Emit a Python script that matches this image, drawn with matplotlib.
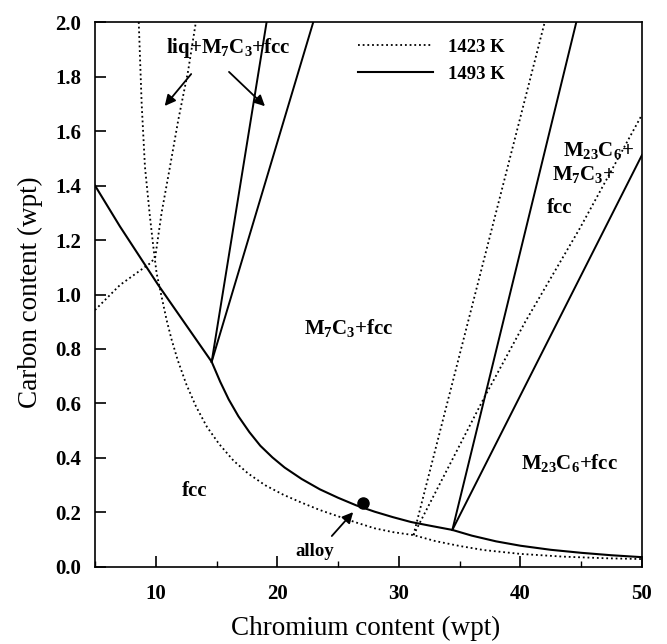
import matplotlib
matplotlib.use('Agg')
import matplotlib.pyplot as plt
from matplotlib.ticker import MultipleLocator, FormatStrFormatter

plt.rcParams['font.family'] = 'Liberation Serif'
plt.rcParams['mathtext.fontset'] = 'custom'
plt.rcParams['mathtext.bf'] = 'Liberation Serif:bold'
plt.rcParams['mathtext.rm'] = 'Liberation Serif:bold'
plt.rcParams['mathtext.default'] = 'bf'

# 1493 K: fcc boundary (solid)
cr_1493 = [5, 7.05, 10.2, 14.6, 15.3, 16.0, 16.8, 17.7, 18.6, 19.6, 20.6, 22.0, 23.5,
           25.0, 26.5, 28.0, 29.5, 31.0, 32.5, 34.4, 36.0, 38.0, 40.0, 42.5, 45.0,
           47.5, 50.0]
c_1493 = [1.40, 1.25, 1.035, 0.753, 0.680, 0.615, 0.553, 0.495, 0.445, 0.402, 0.365,
          0.323, 0.285, 0.254, 0.226, 0.203, 0.183, 0.165, 0.152, 0.136, 0.115, 0.094,
          0.078, 0.063, 0.052, 0.043, 0.036]
# 1493 K tie lines (solid)
cr_1493_tie_a = [14.6, 19.12]
c_1493_tie_a = [0.753, 2.0]
cr_1493_tie_b = [14.6, 22.96]
c_1493_tie_b = [0.753, 2.0]
cr_1493_tie_c = [34.4, 44.6]
c_1493_tie_c = [0.136, 2.0]
cr_1493_tie_d = [34.4, 50]
c_1493_tie_d = [0.136, 1.512]

# 1423 K: fcc boundary (dotted)
cr_1423 = [8.6, 8.84, 9.11, 9.52, 9.8, 10.07, 10.48, 10.9, 11.3, 11.8, 12.5, 13.3,
           14.2, 15.2, 16.4, 17.6, 19.0, 20.5, 22.0, 23.5, 25.0, 26.5, 28.0, 29.5,
           31.2, 33.0, 35.0, 37.0, 40.0, 43.5, 47.0, 50.0]
c_1423 = [2.0, 1.70, 1.469, 1.286, 1.175, 1.078, 0.992, 0.905, 0.835, 0.76, 0.672,
          0.59, 0.515, 0.452, 0.39, 0.343, 0.300, 0.265, 0.236, 0.209, 0.186, 0.163,
          0.142, 0.128, 0.117, 0.095, 0.077, 0.062, 0.048, 0.038, 0.032, 0.029]
# 1423 K other boundaries (dotted)
cr_1423_liq = [5, 7.06, 9.52, 9.95]
c_1423_liq = [0.943, 1.035, 1.114, 1.135]
cr_1423_tie_a = [9.95, 10.48, 11.17, 11.85, 12.66, 13.3]
c_1423_tie_a = [1.135, 1.30, 1.469, 1.64, 1.82, 2.0]
cr_1423_tie_b = [31.2, 42.0]
c_1423_tie_b = [0.117, 2.0]
cr_1423_tie_c = [31.2, 37.0, 40.4, 44.9, 50]
c_1423_tie_c = [0.117, 0.62, 0.9, 1.244, 1.66]

alloy_cr = [27.05]
alloy_c = [0.235]

dotted = (0, (1, 1.6))
fig, ax = plt.subplots(figsize=(6.67, 6.44), dpi=100)
fig.subplots_adjust(left=0.1424, right=0.9625, bottom=0.1196, top=0.9658)

ax.plot(cr_1423, c_1423, color='k', lw=1.3, ls=dotted, label='1423 K')
for xs, ys in [(cr_1423_liq, c_1423_liq), (cr_1423_tie_a, c_1423_tie_a),
               (cr_1423_tie_b, c_1423_tie_b), (cr_1423_tie_c, c_1423_tie_c)]:
    ax.plot(xs, ys, color='k', lw=1.3, ls=dotted)

ax.plot(cr_1493, c_1493, color='k', lw=1.5, label='1493 K')
for xs, ys in [(cr_1493_tie_a, c_1493_tie_a), (cr_1493_tie_b, c_1493_tie_b),
               (cr_1493_tie_c, c_1493_tie_c), (cr_1493_tie_d, c_1493_tie_d)]:
    ax.plot(xs, ys, color='k', lw=1.4)

ax.plot(alloy_cr, alloy_c, 'o', color='k', ms=8)

ax.set_xlim(5, 50)
ax.set_ylim(0, 2.0)

# region labels
kw = dict(fontsize=15, fontweight='bold', color='k')
ax.text(16.0, 1.905, r'liq+M$_7$C$_3$+fcc', ha='center', va='center', **kw)
ax.text(25.9, 0.877, r'M$_7$C$_3$+fcc', ha='center', va='center', **kw)
ax.text(44.0, 0.38, r'M$_{23}$C$_6$+fcc', ha='center', va='center', **kw)
ax.text(13.2, 0.279, 'fcc', ha='center', va='center', **kw)
ax.text(43.5, 1.53, r'M$_{23}$C$_6$+', ha='left', va='center', **kw)
ax.text(42.6, 1.439, r'M$_7$C$_3$+', ha='left', va='center', **kw)
ax.text(42.2, 1.317, 'fcc', ha='left', va='center', **kw)
ax.text(23.1, 0.055, 'alloy', ha='center', va='center', fontsize=13.5, fontweight='bold')

arrow = dict(arrowstyle='-|>', color='k', lw=1.3, mutation_scale=16)
ax.annotate('', xy=(10.59, 1.684), xytext=(13.06, 1.817), arrowprops=arrow)
ax.annotate('', xy=(19.15, 1.684), xytext=(15.86, 1.824), arrowprops=arrow)
ax.annotate('', xy=(26.39, 0.209), xytext=(24.33, 0.106), arrowprops=arrow)

leg = ax.legend(loc='upper left', bbox_to_anchor=(0.481, 0.969), frameon=False,
                borderaxespad=0, borderpad=0, handlelength=4.0, handletextpad=0.8,
                labelspacing=0.5, prop={'family': 'Liberation Serif', 'weight': 'bold', 'size': 13.5})

ax.xaxis.set_major_locator(MultipleLocator(10))
ax.xaxis.set_minor_locator(MultipleLocator(5))
ax.yaxis.set_major_locator(MultipleLocator(0.2))
ax.yaxis.set_major_formatter(FormatStrFormatter('%.1f'))
ax.tick_params(axis='both', which='both', direction='in', top=False, right=False)
ax.tick_params(axis='x', which='major', length=8, width=1.2, pad=12)
ax.tick_params(axis='x', which='minor', length=4, width=1.0)
ax.tick_params(axis='y', which='major', length=8, width=1.2, pad=10)
for lab in ax.get_xticklabels() + ax.get_yticklabels():
    lab.set_fontsize(15)
    lab.set_fontweight('bold')
for sp in ax.spines.values():
    sp.set_linewidth(1.2)

ax.set_xlabel('Chromium content (wpt)', fontsize=19.5)
ax.set_ylabel('Carbon content (wpt)', fontsize=19.5)
ax.xaxis.set_label_coords(0.495, -0.09)
ax.yaxis.set_label_coords(-0.095, 0.505)

plt.savefig('out.png', dpi=100)
